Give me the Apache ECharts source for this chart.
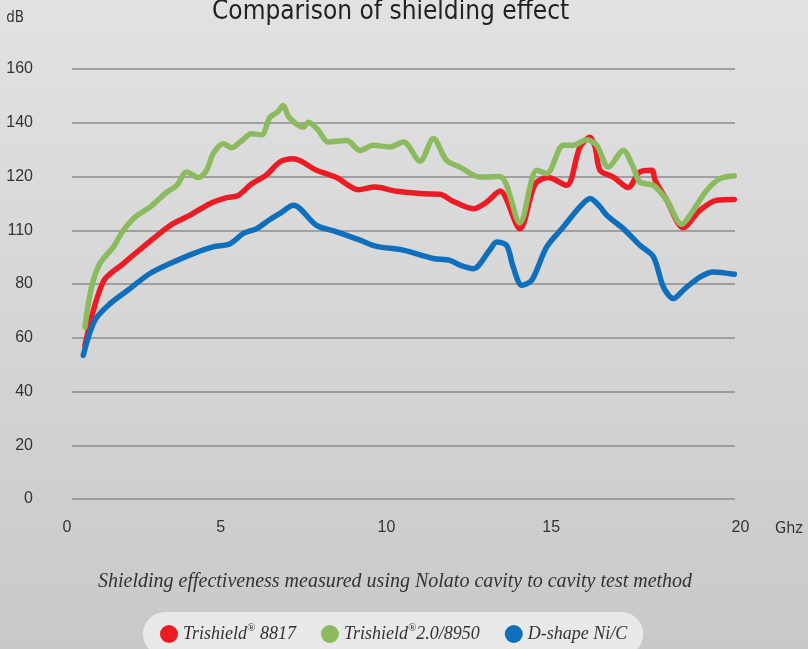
<!DOCTYPE html>
<html>
<head>
<meta charset="utf-8">
<script src="https://cdn.jsdelivr.net/npm/echarts@6/dist/echarts.min.js"></script>
<style>
html,body{margin:0;padding:0;}
#main{width:808px;height:649px;}
</style>
</head>
<body>
<div id="main"></div>
<script>
// Comparison of shielding effect (dB vs Ghz)
var seriesNames = ['Trishield® 8817', 'Trishield®2.0/8950', 'D-shape Ni/C'];
var yTickLabels = ['0', '20', '40', '60', '80', '110', '120', '140', '160'];
var xTickLabels = ['0', '5', '10', '15', '20'];

var redGhz = [0.39, 0.94, 1.55, 2.15, 2.96, 3.56, 4.16, 4.67, 5.02, 5.42, 5.85, 6.27, 6.68, 7.38, 7.98, 8.64, 9.14, 9.79, 10.6, 11.1, 11.49, 12.11, 12.51, 12.91, 13.51, 13.97, 14.36, 14.92, 15.32, 15.63, 15.78, 15.93, 16.33, 16.78, 17.13, 17.49, 17.59, 17.94, 18.44, 18.94, 19.45, 19.98];
var redDb = [57.2, 80.8, 87.6, 93.8, 101.8, 105.6, 109.9, 112.1, 113.0, 117.3, 120.4, 125.4, 126.6, 122.3, 119.6, 115.1, 116.1, 114.5, 113.6, 113.4, 110.8, 108.0, 110.5, 114.6, 100.6, 117.1, 119.6, 116.7, 130.9, 134.6, 131.0, 122.3, 119.8, 115.9, 121.7, 122.3, 118.6, 111.2, 101.0, 107.4, 111.2, 111.4];

var greenGhz = [0.39, 0.59, 0.84, 1.25, 1.55, 1.90, 2.35, 2.86, 3.16, 3.46, 3.81, 4.06, 4.26, 4.56, 4.82, 5.07, 5.42, 5.72, 5.97, 6.2, 6.37, 6.55, 6.98, 7.13, 7.43, 7.73, 8.29, 8.69, 9.09, 9.59, 10.0, 10.5, 10.9, 11.3, 11.7, 12.3, 12.91, 13.51, 14.02, 14.32, 14.82, 15.12, 15.53, 15.83, 16.18, 16.63, 16.93, 17.13, 17.54, 17.94, 18.39, 18.74, 19.15, 19.55, 19.98];
var greenDb = [64.0, 78.9, 87.6, 93.8, 100.0, 104.9, 108.6, 114.2, 116.7, 121.7, 119.6, 122.3, 128.5, 132.2, 130.7, 132.8, 135.9, 135.5, 142.0, 144.0, 146.4, 142.0, 138.4, 140.2, 137.2, 132.8, 133.4, 129.7, 131.6, 131.0, 132.8, 125.7, 134.1, 126.0, 123.5, 119.8, 120.0, 102.8, 122.3, 121.1, 131.6, 131.6, 133.7, 131.6, 123.5, 129.7, 123.5, 117.9, 116.7, 111.2, 102.2, 107.4, 114.9, 119.2, 120.3];

var blueGhz = [0.34, 0.69, 1.15, 1.75, 2.35, 2.96, 3.66, 4.26, 4.77, 5.17, 5.57, 5.97, 6.3, 6.68, 7.38, 7.98, 8.69, 9.19, 9.99, 10.9, 11.4, 11.7, 12.11, 12.6, 12.81, 13.11, 13.31, 13.57, 13.87, 14.32, 14.82, 15.32, 15.63, 15.93, 16.13, 16.63, 17.13, 17.54, 17.84, 18.14, 18.49, 18.94, 19.35, 19.98];
var blueDb = [53.5, 66.5, 72.7, 78.3, 83.9, 87.6, 91.3, 93.8, 95.0, 98.8, 100.6, 104.0, 106.5, 109.3, 101.8, 99.4, 96.3, 94.0, 92.6, 89.5, 88.8, 87.0, 85.7, 92.6, 95.6, 94.4, 86.3, 79.5, 81.4, 93.8, 101.2, 108.7, 111.8, 108.7, 105.6, 100.6, 94.4, 90.1, 78.9, 74.6, 78.3, 82.6, 84.5, 83.6];

function pairs(xs, ys) {
	var out = [];
	for (var i = 0; i < xs.length; i++) {
		out.push([xs[i], ys[i]]);
	}
	return out;
}

var narrow = "'Liberation Sans Narrow', 'DejaVu Sans Condensed', 'Liberation Sans', sans-serif";
var sans = "'Liberation Sans', Arial, sans-serif";
var serif = "'Liberation Serif', 'DejaVu Serif', serif";

// x tick labels in the original are not evenly placed, nudge them
var xRich = {
	t0: { padding: [0, 10, 0, 0] },
	t1: { padding: [0, 34, 0, 0] },
	t2: { padding: [0, 34, 0, 0] },
	t3: { padding: [0, 36, 0, 0] },
	t4: { padding: [0, 0, 0, 11] }
};

function makeLine(name, data, color) {
	return {
		name: name,
		type: 'line',
		data: data,
		smooth: 0.3,
		showSymbol: false,
		symbol: 'circle',
		itemStyle: { color: color },
		lineStyle: { color: color, width: 5.5, cap: 'round', join: 'round' }
	};
}

var option = {
	backgroundColor: {
		type: 'linear', x: 0, y: 0, x2: 0, y2: 1,
		colorStops: [{ offset: 0, color: '#e1e2e1' }, { offset: 1, color: '#c8c9c8' }]
	},
	animation: false,
	title: [{
		text: 'Comparison of shielding effect',
		left: 207,
		top: -6,
		textStyle: { fontFamily: narrow, fontSize: 26, fontWeight: 'normal', color: '#222' }
	}, {
		text: 'Shielding effectiveness measured using Nolato cavity to cavity test method',
		left: 93,
		top: 567,
		textStyle: { fontFamily: serif, fontStyle: 'italic', fontSize: 20, fontWeight: 'normal', color: '#333' }
	}],
	legend: {
		data: seriesNames,
		top: 612,
		left: 143,
		icon: 'circle',
		itemWidth: 18,
		itemHeight: 18,
		itemGap: 25,
		padding: [11, 16, 11, 17],
		backgroundColor: '#e8e9e8',
		borderRadius: 22,
		formatter: function (name) {
			return name.replace('®', '{s|®}');
		},
		textStyle: {
			fontFamily: serif, fontStyle: 'italic', fontSize: 18, color: '#333', lineHeight: 22,
			rich: {
				s: { fontFamily: serif, fontSize: 11, color: '#333', verticalAlign: 'top', lineHeight: 12 }
			}
		}
	},
	grid: { left: 72, right: 73, top: 69, bottom: 150 },
	xAxis: {
		type: 'value',
		min: 0,
		max: 20,
		interval: 5,
		name: 'Ghz',
		nameLocation: 'end',
		nameGap: 40,
		nameTextStyle: { fontFamily: narrow, fontSize: 16, color: '#333', verticalAlign: 'top', padding: [22, 0, 0, 0] },
		axisLine: { show: false },
		axisTick: { show: false },
		splitLine: { show: false },
		axisLabel: {
			margin: 21,
			fontFamily: sans,
			fontSize: 16,
			color: '#333',
			formatter: function (v) {
				var i = Math.round(v / 5);
				return '{t' + i + '|' + xTickLabels[i] + '}';
			},
			rich: xRich
		}
	},
	yAxis: {
		type: 'value',
		min: 0,
		max: 160,
		interval: 20,
		name: 'dB',
		nameLocation: 'end',
		nameGap: 51,
		nameTextStyle: { fontFamily: narrow, fontSize: 15, color: '#333', align: 'right', verticalAlign: 'middle', padding: [0, 48, 0, 0] },
		axisLine: { show: false },
		axisTick: { show: false },
		splitLine: { lineStyle: { color: '#8c8c8c', width: 1.5 } },
		axisLabel: {
			margin: 39,
			fontFamily: sans,
			fontSize: 16,
			color: '#333',
			formatter: function (v) {
				return yTickLabels[Math.round(v / 20)];
			}
		}
	},
	series: [
		makeLine(seriesNames[0], pairs(redGhz, redDb), '#ed1c24'),
		makeLine(seriesNames[1], pairs(greenGhz, greenDb), '#8cbb5f'),
		makeLine(seriesNames[2], pairs(blueGhz, blueDb), '#0f6fbd')
	]
};

var myChart = echarts.init(document.getElementById('main'));
myChart.setOption(option);
</script>
</body>
</html>
